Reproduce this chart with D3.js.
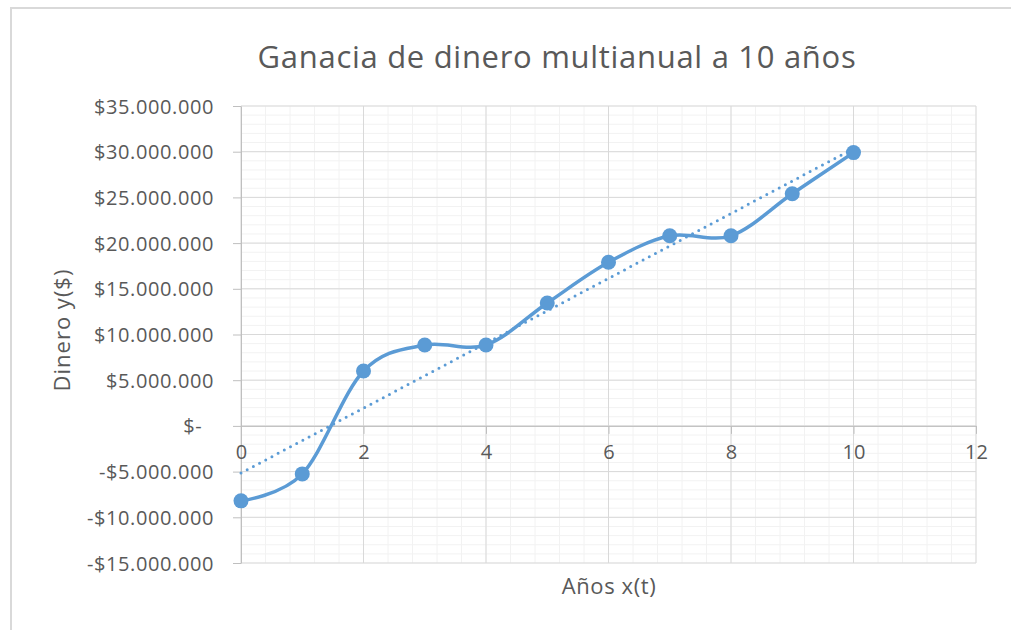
<!DOCTYPE html>
<html><head><meta charset="utf-8">
<script src="https://cdn.jsdelivr.net/npm/d3@7"></script>
<style>
body{margin:0;background:#fff;}
text{font-family:"Open Sans",Lato,sans-serif;fill:#595959;}
</style></head>
<body><svg id="c" width="1011" height="630"></svg>
<script>
const years = [0,1,2,3,4,5,6,7,8,9,10];
const dinero = [-8200000,-5250000,6000000,8850000,8850000,13450000,17900000,20800000,20800000,25400000,29900000];
const xTicks = [0,2,4,6,8,10,12];
const yTicks = [-15000000,-10000000,-5000000,0,5000000,10000000,15000000,20000000,25000000,30000000,35000000];
const title = "Ganacia de dinero multianual a 10 años";
const xTitle = "Años x(t)";
const yTitle = "Dinero y($)";

const svg = d3.select("#c");
const blue = "#5B9BD5";
svg.append("path").attr("d","M11,640 L11,8 L1020,8").attr("fill","none").attr("stroke","#d9d9d9").attr("stroke-width",2);

const x = d3.scaleLinear().domain([0,12]).range([241,976]);
const y = d3.scaleLinear().domain([-15000000,35000000]).range([563,106]);

const g = svg.append("g");
const xMinor = d3.range(0,12.0001,0.4);
const yMinor = d3.range(-15000000,35000001,1000000);
g.selectAll(".vm").data(xMinor).join("line")
 .attr("x1",d=>x(d)).attr("x2",d=>x(d)).attr("y1",y(-15000000)).attr("y2",y(35000000))
 .attr("stroke","#f2f2f2").attr("stroke-width",1);
g.selectAll(".hm").data(yMinor).join("line")
 .attr("y1",d=>y(d)).attr("y2",d=>y(d)).attr("x1",x(0)).attr("x2",x(12))
 .attr("stroke","#f2f2f2").attr("stroke-width",1);
g.selectAll(".vM").data(xTicks).join("line")
 .attr("x1",d=>x(d)).attr("x2",d=>x(d)).attr("y1",y(-15000000)).attr("y2",y(35000000))
 .attr("stroke","#d9d9d9").attr("stroke-width",1);
g.selectAll(".hM").data(yTicks).join("line")
 .attr("y1",d=>y(d)).attr("y2",d=>y(d)).attr("x1",x(0)).attr("x2",x(12))
 .attr("stroke","#d9d9d9").attr("stroke-width",1);

const fmt = d => d===0 ? "$-  " : (d<0?"-":"") + "$" + d3.format(",")(Math.abs(d)).replace(/,/g,".");
const yAxis = svg.append("g").attr("transform",`translate(${x(0)},0)`)
 .call(d3.axisLeft(y).tickValues(yTicks).tickSize(8).tickSizeOuter(0).tickPadding(19).tickFormat(fmt));
yAxis.select(".domain").attr("stroke","#bfbfbf");
yAxis.selectAll(".tick line").attr("stroke","#bfbfbf");
yAxis.selectAll("text").style("font-size","20px").style("letter-spacing","0.6px").attr("fill","#595959").attr("dy","0.35em");
yAxis.selectAll(".tick text").filter(d=>d===0).attr("xml:space","preserve");

const xAxis = svg.append("g").attr("transform",`translate(0,${y(0)})`)
 .call(d3.axisBottom(x).tickValues(xTicks).tickSize(8).tickSizeOuter(0).tickPadding(11).tickFormat(d3.format("d")));
xAxis.select(".domain").attr("stroke","#bfbfbf");
xAxis.selectAll(".tick line").attr("stroke","#bfbfbf");
xAxis.selectAll("text").style("font-size","20px").attr("fill","#595959");

const mx = d3.mean(years), my = d3.mean(dinero);
const slope = d3.sum(years,(d,i)=>(d-mx)*(dinero[i]-my))/d3.sum(years,d=>(d-mx)*(d-mx));
const icpt = my - slope*mx;
svg.append("line").attr("x1",x(0)).attr("y1",y(icpt)).attr("x2",x(10)).attr("y2",y(icpt+slope*10))
 .attr("stroke",blue).attr("stroke-width",3).attr("stroke-dasharray","0 7").attr("stroke-linecap","round");

const line = d3.line().x((d,i)=>x(years[i])).y(d=>y(d)).curve(d3.curveCardinal.tension(0));
svg.append("path").attr("d",line(dinero)).attr("fill","none").attr("stroke",blue).attr("stroke-width",3.5).attr("stroke-linecap","round");
svg.selectAll(".pt").data(dinero).join("circle")
 .attr("cx",(d,i)=>x(years[i])).attr("cy",d=>y(d)).attr("r",7.5).attr("fill",blue);

svg.append("text").attr("x",557).attr("y",68).attr("text-anchor","middle").style("font-size","31px").style("letter-spacing","0.7px").text(title);
svg.append("text").attr("x",609).attr("y",594).attr("text-anchor","middle").style("font-size","22px").style("letter-spacing","0.6px").text(xTitle);
svg.append("text").attr("transform","translate(70,330) rotate(-90)").attr("text-anchor","middle").style("font-size","22px").style("letter-spacing","1px").text(yTitle);
</script></body></html>
